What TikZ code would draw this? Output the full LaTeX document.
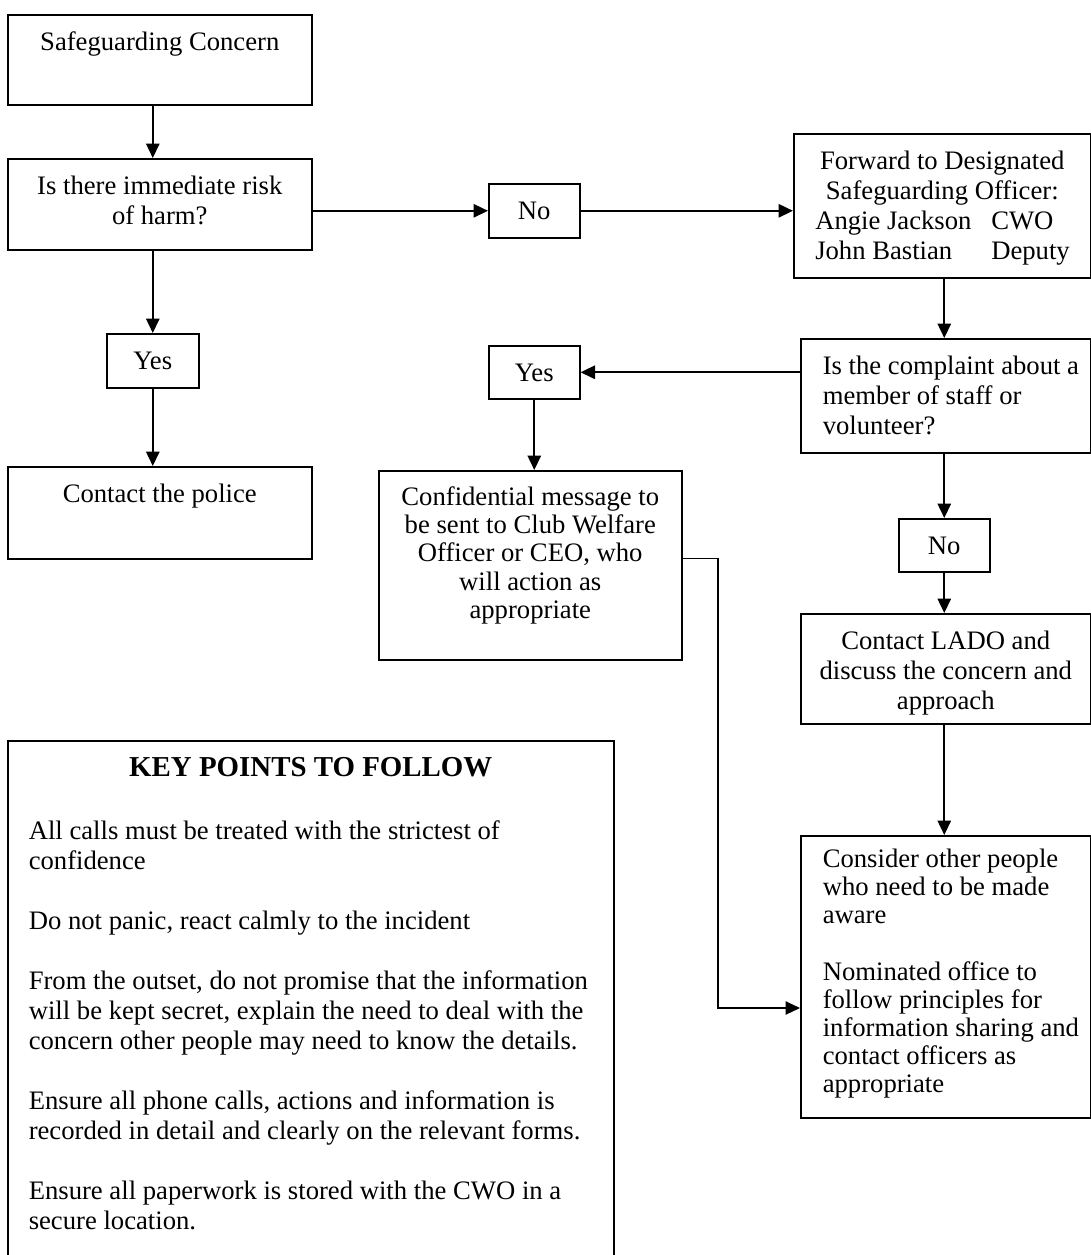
\documentclass[tikz,border=0pt]{standalone}
\usepackage{fontspec}
\setmainfont{Liberation Serif}
\usetikzlibrary{arrows.meta}

\newlength\pxu \setlength\pxu{0.45pt}
\newlength\padx \setlength\padx{4.5pt}
\newlength\pady \setlength\pady{6.75pt}
% fixed size box, text set from the top
\newcommand{\boxtext}[4]{\parbox[c][\dimexpr#2\pxu-2\pady\relax][t]{\dimexpr#1\pxu-2\padx\relax}{#3\strut#4}}

\begin{document}
\begin{tikzpicture}[x=0.45pt, y=-0.45pt,
	box/.style = {draw, line width=0.7pt, inner xsep=\padx, inner ysep=\pady, anchor=north west, font=\fontsize{12}{13.5}\selectfont},
	arr/.style = {line width=0.9pt, -{Triangle[length=6.5pt, width=6pt]}}]

	\useasboundingbox (0,0) rectangle (1091,1255);

	% left column
	\node[box] (concern) at (7,14) {\boxtext{304}{90}{\centering}{Safeguarding Concern}};
	\node[box] (risk) at (7,158) {\boxtext{304}{91}{\centering}{Is there immediate risk\\of harm?}};
	\node[box] (yesL) at (106,333) {\boxtext{92}{54}{\centering}{Yes}};
	\node[box] (police) at (7,466) {\boxtext{304}{92}{\centering}{Contact the police}};

	% middle and right
	\node[box] (noT) at (488,183) {\boxtext{91}{54}{\centering}{No}};
	\node[box] (forward) at (793,133) {\boxtext{297}{144}{\centering}{Forward to Designated\\Safeguarding Officer:\\
		\makebox[254\pxu][l]{\makebox[176\pxu][l]{Angie Jackson}CWO}\\
		\makebox[254\pxu][l]{\makebox[176\pxu][l]{John Bastian}Deputy}}};
	\node[box] (complaint) at (800,338) {\boxtext{290}{114}{\raggedright\leftskip=12\pxu\relax}{Is the complaint about a\\member of staff or\\volunteer?}};
	\node[box] (yesM) at (488,345) {\boxtext{91}{53}{\centering}{Yes}};
	\node[box] (message) at (378,470) {\boxtext{303}{189}{\centering\fontsize{12}{12.7}\selectfont}{Confidential message to\\be sent to Club Welfare\\Officer or CEO, who\\will action as\\appropriate}};
	\node[box] (noB) at (898,518) {\boxtext{91}{53}{\centering}{No}};
	\node[box] (lado) at (800,613) {\boxtext{290}{110}{\centering}{Contact LADO and\\discuss the concern and\\approach}};
	\node[box] (consider) at (800,835) {\boxtext{290}{282}{\raggedright\leftskip=12\pxu\relax\fontsize{12}{12.7}\selectfont\vspace*{-1.5pt}}{Consider other people\\who need to be made\\aware\\[12.7pt]Nominated office to\\follow principles for\\information sharing and\\contact officers as\\appropriate}};

	% key points
	\node[box] (keys) at (7,740) {\boxtext{606}{520}{\raggedright\leftskip=11\pxu\relax}{{\centering\fontsize{13}{14}\selectfont\bfseries KEY POINTS TO FOLLOW\par}\vspace{14.5pt}
		All calls must be treated with the strictest of\\confidence\\[13.5pt]
		Do not panic, react calmly to the incident\\[13.5pt]
		From the outset, do not promise that the information\\will be kept secret, explain the need to deal with the\\concern other people may need to know the details.\\[13.5pt]
		Ensure all phone calls, actions and information is\\recorded in detail and clearly on the relevant forms.\\[13.5pt]
		Ensure all paperwork is stored with the CWO in a\\secure location.}};

	\draw[arr] (concern.south -| yesL) -- (risk.north -| yesL);
	\draw[arr] (risk.south -| yesL) -- (yesL.north);
	\draw[arr] (yesL.south) -- (police.north -| yesL);
	\draw[arr] (noT.west -| risk.east) -- (noT.west);
	\draw[arr] (noT.east) -- (noT.east -| forward.west);
	\draw[arr] (forward.south -| noB) -- (complaint.north -| noB);
	\draw[arr] (yesM.east -| complaint.west) -- (yesM.east);
	\draw[arr] (yesM.south) -- (yesM.south |- message.north);
	\draw[arr] (complaint.south -| noB) -- (noB.north);
	\draw[arr] (noB.south) -- (lado.north -| noB);
	\draw[arr] (lado.south -| noB) -- (consider.north -| noB);
	\coordinate (turn) at (718,1008);
	\draw[arr, line width=0.6pt] ([yshift=3.2pt]message.east) -| (turn) -- (turn -| consider.west);
\end{tikzpicture}
\end{document}
